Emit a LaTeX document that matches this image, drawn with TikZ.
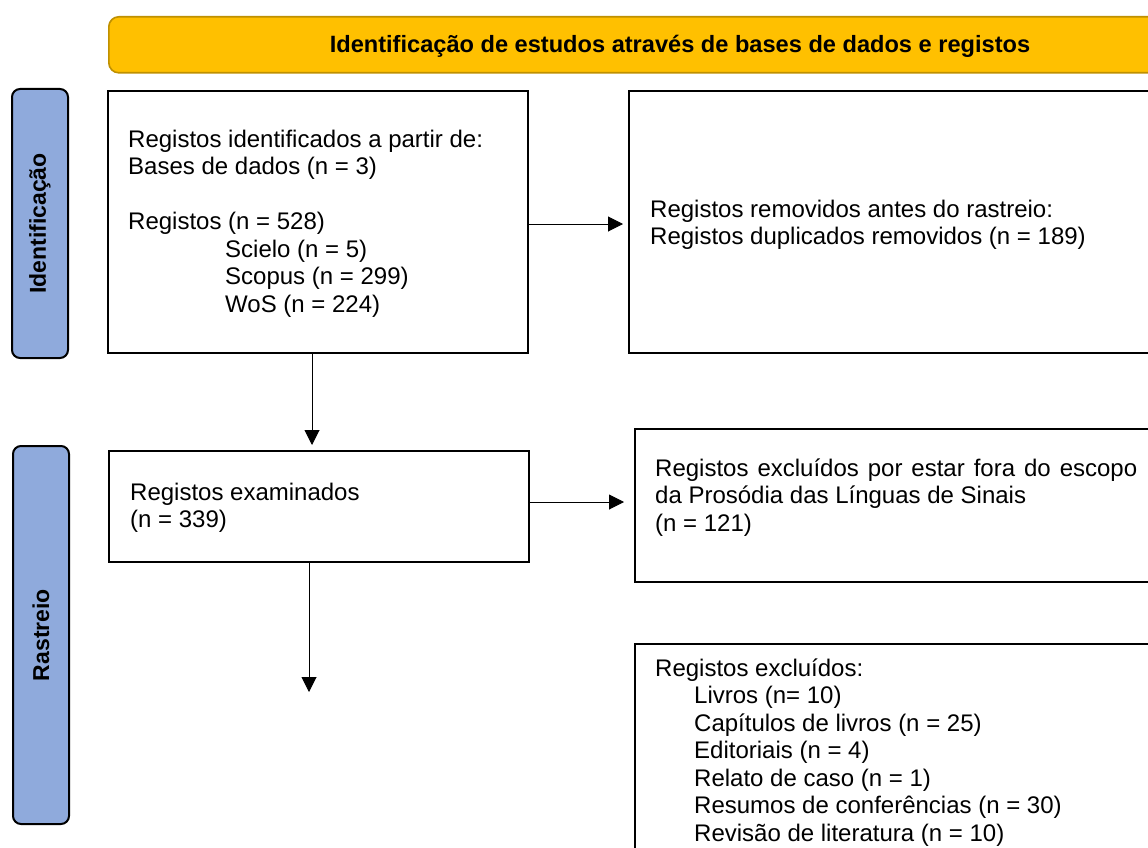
\documentclass[tikz,border=0pt]{standalone}
\usepackage{fontspec}
\setmainfont{Liberation Sans}
\usetikzlibrary{arrows.meta,calc}
\definecolor{hdrfill}{HTML}{FFC000}
\definecolor{hdrline}{HTML}{BF9000}
\definecolor{sidefill}{HTML}{8FAADC}
\begin{document}
\begin{tikzpicture}[x=1pt,y=-1pt,
  box/.style={draw=black,line width=2pt,fill=white,anchor=north west,inner sep=0pt},
  side/.style={draw=black,line width=2pt,fill=sidefill,rounded corners=8pt,anchor=north west,inner sep=0pt},
  hdr/.style={draw=hdrline,line width=1.6pt,fill=hdrfill,rounded corners=10pt,anchor=north west,inner sep=0pt},
  txt/.style={anchor=base west,inner sep=0pt,align=left,font=\fontsize{24}{27.5}\selectfont},
  sidetxt/.style={rotate=90,inner sep=0pt,font=\fontsize{23}{27}\selectfont\bfseries},
  arr/.style={line width=1pt,-{Triangle[length=15pt,width=15pt]}}
]
\useasboundingbox (0,0) rectangle (1148,848);
\clip (0,0) rectangle (1148,848);
\fill[white] (0,0) rectangle (1148,848);

% header
\node[hdr,minimum width=1150pt,minimum height=56pt] (hdr) at (108,16) {};
\node[inner sep=0pt,anchor=base,font=\fontsize{23.6}{27}\selectfont\bfseries] (hdrtxt) at (680,53) {Identificação de estudos através de bases de dados e registos};

% side labels
\node[side,minimum width=56pt,minimum height=269pt] (s1) at (11,88) {};
\node[sidetxt] (s1t) at (s1.center) {Identificação};
\node[side,minimum width=56pt,minimum height=378pt] (s2) at (12,445) {};
\node[sidetxt] (s2t) at (s2.center) {Rastreio};

% boxes
\node[box,minimum width=420pt,minimum height=262pt] (b1) at (107,90) {};
\node[box,minimum width=560pt,minimum height=262pt] (b2) at (628,90) {};
\node[box,minimum width=420pt,minimum height=111pt] (b3) at (108,450) {};
\node[box,minimum width=560pt,minimum height=153pt] (b4) at (634,428) {};
\node[box,minimum width=560pt,minimum height=260pt] (b5) at (634,643) {};

% texts (anchored at the baseline of their last line)
\node[txt] (t1) at (128,312) {Registos identificados a partir de:\\Bases de dados (n = 3)\\[27.5pt]Registos (n = 528)\\\hspace*{97pt}Scielo (n = 5)\\\hspace*{97pt}Scopus (n = 299)\\\hspace*{97pt}WoS (n = 224)};
\node[txt] (t2) at (650,244.5) {Registos removidos antes do rastreio:\\Registos duplicados removidos (n = 189)};
\node[txt] (t3) at (130,527.5) {Registos examinados\\(n = 339)};
\node[txt] (t4) at (655,531) {\makebox[482pt][s]{Registos excluídos por estar fora do escopo}\\da Prosódia das Línguas de Sinais\\(n = 121)};
\node[txt] (t5) at (655,841) {Registos excluídos:\\\hspace*{39pt}Livros (n= 10)\\\hspace*{39pt}Capítulos de livros (n = 25)\\\hspace*{39pt}Editoriais (n = 4)\\\hspace*{39pt}Relato de caso (n = 1)\\\hspace*{39pt}Resumos de conferências (n = 30)\\\hspace*{39pt}Revisão de literatura (n = 10)};

% connectors
\coordinate (e2) at (309,692);
\draw[arr,shorten >=5pt] (b1.east |- 0,224) -- (b2.west |- 0,224);
\draw[arr,shorten >=10pt] (b3.east |- 0,502) -- (b4.west |- 0,502);
\draw[arr,shorten >=5pt] (b1.south -| 312,0) -- (b3.north -| 312,0);
\draw[arr] (b3.south -| 309,0) -- (e2);
\end{tikzpicture}
\end{document}
